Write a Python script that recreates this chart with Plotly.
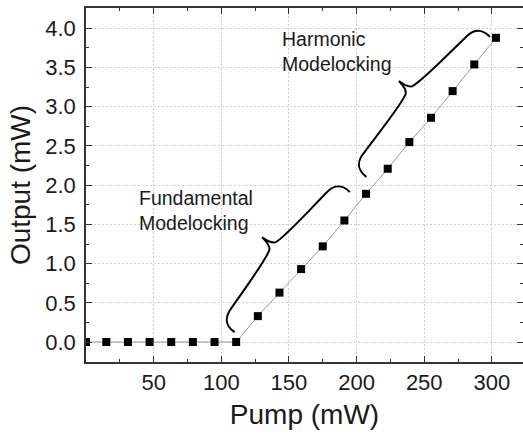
import plotly.graph_objects as go

# ---- data ----
pump = [0, 15, 31, 47, 63, 79, 95, 111, 127, 143, 159, 175, 191, 207, 223, 239, 255, 271, 287, 303]
output = [0, 0, 0, 0, 0, 0, 0, 0, 0.33, 0.63, 0.93, 1.22, 1.55, 1.89, 2.21, 2.55, 2.86, 3.20, 3.54, 3.88]

x_ticks = [50, 100, 150, 200, 250, 300]
x_minor = [25, 75, 125, 175, 225, 275]
y_ticks = [0.0, 0.5, 1.0, 1.5, 2.0, 2.5, 3.0, 3.5, 4.0]
y_minor = [0.25, 0.75, 1.25, 1.75, 2.25, 2.75, 3.25, 3.75]

labels = ["Fundamental<br>Modelocking", "Harmonic<br>Modelocking"]
label_pos = [(38.0, 1.68), (143.5, 3.71)]
# brace end points (data units): lower end, upper end
braces = [((109.9, 0.126), (195.0, 1.912)), ((207.3, 2.107), (298.5, 3.893))]

# ---- layout geometry ----
W, H = 523, 438
ML, MR, MT, MB = 86, 0, 8, 76
XR = [0, 323]
YR = [-0.255, 4.26]
sx = (W - ML - MR) / (XR[1] - XR[0])
sy = (H - MT - MB) / (YR[1] - YR[0])


def brace_path(a, b, w=39.0):
    ax, ay = a[0] * sx, a[1] * sy
    bx, by = b[0] * sx, b[1] * sy
    dx, dy = bx - ax, by - ay
    L = (dx * dx + dy * dy) ** 0.5
    ux, uy = dx / L, dy / L
    nx, ny = -uy, ux  # normal toward upper-left
    m = L / 2

    def P(t, n):
        X = ax + t * ux + n * nx
        Y = ay + t * uy + n * ny
        return f"{X / sx:.4f},{Y / sy:.4f}"

    segs = [
        [(-1, 9), (3, 16), (13, 17.5)],
        [(35, 19.5), (m - 14, 21.5), (m - 5, 25.5)],
        [(m - 1.5, 27.5), (m - 0.5, 33), (m, w)],
        [(m + 0.5, 33), (m + 1.5, 27.5), (m + 5, 25.5)],
        [(m + 14, 21.5), (L - 35, 19.5), (L - 13, 17.5)],
        [(L - 3, 16), (L + 1, 9), (L, 0)],
    ]
    s = "M " + P(0, 0)
    for seg in segs:
        s += " C " + " ".join(P(t, n) for t, n in seg)
    return s


fig = go.Figure()
fig.add_trace(go.Scatter(
    x=pump, y=output, mode="lines+markers",
    line=dict(color="#9a9a9a", width=1),
    marker=dict(symbol="square", size=8, color="black"),
    showlegend=False,
))

shapes = []
for a, b in braces:
    shapes.append(dict(type="path", xref="x", yref="y", path=brace_path(a, b),
                       line=dict(color="black", width=2)))

annotations = []
for txt, (x, y) in zip(labels, label_pos):
    annotations.append(dict(x=x, y=y, xref="x", yref="y", text=txt, showarrow=False,
                            xanchor="left", yanchor="middle", align="left",
                            font=dict(family="Liberation Sans, Arial", size=19.5, color="#1a1a1a")))

axis_common = dict(
    showline=True, linecolor="#333333", linewidth=1.6, mirror="ticks",
    ticks="inside", ticklen=6, tickwidth=1.4, tickcolor="#333333",
    showgrid=True, gridcolor="#cfcfcf", gridwidth=1, griddash="2px,2px",
    zeroline=False, automargin=False,
    tickfont=dict(family="Liberation Sans, Arial", size=22, color="#1a1a1a"),
)

fig.update_layout(
    width=W, height=H,
    margin=dict(l=ML, r=MR, t=MT, b=MB, autoexpand=False),
    paper_bgcolor="white", plot_bgcolor="white",
    shapes=shapes, annotations=annotations,
    xaxis=dict(range=XR, tickmode="array", tickvals=x_ticks, ticklabelstandoff=0,
               minor=dict(tickvals=x_minor, ticks="inside", ticklen=3.5, tickcolor="#333333", showgrid=False),
               title=dict(text="Pump (mW)", standoff=10,
                          font=dict(family="Liberation Sans, Arial", size=28, color="#1a1a1a")),
               **axis_common),
    yaxis=dict(range=YR, tickmode="array", tickvals=y_ticks, tickformat=".1f", ticklabelstandoff=4,
               minor=dict(tickvals=y_minor, ticks="inside", ticklen=3.5, tickcolor="#333333", showgrid=False),
               title=dict(text="Output (mW)", standoff=6,
                          font=dict(family="Liberation Sans, Arial", size=28, color="#1a1a1a")),
               **axis_common),
)

fig.write_html(
    "out.html",
    config={"displayModeBar": False},
    post_script="document.body.style.margin='0';document.body.style.overflow='hidden';",
)
